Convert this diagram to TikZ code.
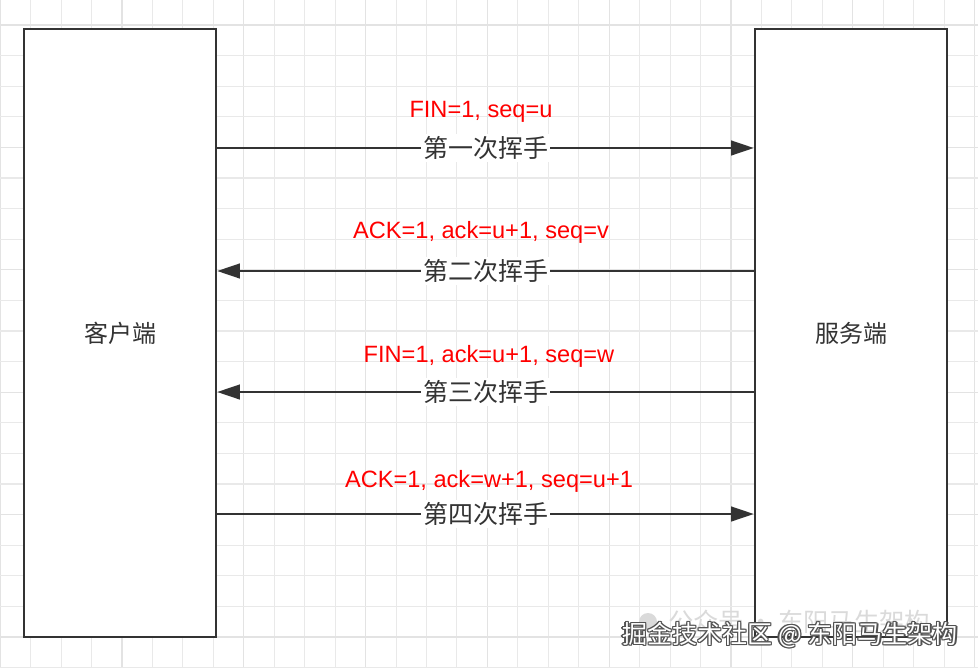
\documentclass[tikz,border=0pt]{standalone}
\usepackage{fontspec}
\setmainfont{Liberation Sans}
\newfontfamily\cjk{Noto Sans CJK SC}
\usetikzlibrary{arrows.meta}
\definecolor{lc}{HTML}{333333}
\definecolor{gridminor}{HTML}{E9E9E9}
\definecolor{gridmajor}{HTML}{E3E3E3}
\definecolor{redtxt}{HTML}{FF0000}
\definecolor{faint}{HTML}{DADADA}
\begin{document}
\begin{tikzpicture}[x=0.75pt,y=-0.75pt,
  party/.style={draw=lc, line width=1.8pt, fill=white, minimum width=144pt, minimum height=456pt,
    inner sep=0pt, font=\cjk\fontsize{18}{20}\selectfont, text=lc},
  msg/.style={draw=lc, line width=1.6pt, -{Triangle[length=17pt,width=11pt]}},
  steplbl/.style={fill=white, inner sep=1.5pt, font=\cjk\fontsize{18.75}{20}\selectfont, text=lc},
  redlbl/.style={anchor=base, inner sep=0pt, font=\fontsize{17.7}{20}\selectfont, text=redtxt},
  wmtext/.style={inner sep=0pt, font=\cjk\fontsize{18.8}{20}\selectfont},
  wmfaint/.style={inner sep=0pt, font=\cjk\fontsize{19}{20}\selectfont, text=faint}]
\useasboundingbox (0,0) rectangle (978,668);
\fill[white] (0,0) rectangle (978,668);
% grid
\foreach \k in {0,...,32}{
  \pgfmathsetmacro{\xx}{0.2+30.45*\k}
  \pgfmathtruncatemacro{\mm}{mod(\k,4)}
  \ifnum\mm=0
    \draw[gridmajor, line width=1pt] (\xx,0) -- (\xx,668);
  \else
    \draw[gridminor, line width=0.8pt] (\xx,0) -- (\xx,668);
  \fi
}
\foreach \k in {-1,...,21}{
  \pgfmathsetmacro{\yy}{25+30.6*\k}
  \pgfmathtruncatemacro{\mm}{mod(\k+4,4)}
  \ifnum\mm=0
    \draw[gridmajor, line width=1pt] (0,\yy) -- (978,\yy);
  \else
    \draw[gridminor, line width=0.8pt] (0,\yy) -- (978,\yy);
  \fi
}
% parties
\node[party] (cli) at (120,333) {客户端};
\node[party] (srv) at (851,333) {服务端};
% rows
\coordinate (r1) at (485,148);
\coordinate (r2) at (485,271);
\coordinate (r3) at (485,392);
\coordinate (r4) at (485,514);
\draw[msg] (cli.east |- r1) -- node[steplbl] (s1) {第一次挥手} (srv.west |- r1);
\draw[msg] (srv.west |- r2) -- node[steplbl] (s2) {第二次挥手} (cli.east |- r2);
\draw[msg] (srv.west |- r3) -- node[steplbl] (s3) {第三次挥手} (cli.east |- r3);
\draw[msg] (cli.east |- r4) -- node[steplbl] (s4) {第四次挥手} (srv.west |- r4);
\node[redlbl] (t1) at (481,117) {FIN=1, seq=u};
\node[redlbl] (t2) at (481,238) {ACK=1, ack=u+1, seq=v};
\node[redlbl] (t3) at (489,362) {FIN=1, ack=u+1, seq=w};
\node[redlbl] (t4) at (489,487) {ACK=1, ack=w+1, seq=u+1};
% watermark
\fill[faint] (648,622) circle (9);
\node[wmfaint, anchor=west] (wf) at (668,622) {公众号\,·\,东阳马生架构};
\foreach \dx/\dy [count=\i] in {-1.3/0,1.3/0,0/-1.3,0/1.3,-1/-1,1/1,-1/1,1/-1}{
  \node[wmtext, text=lc!85, anchor=west] (wmo\i) at (622+\dx,635+\dy) {掘金技术社区 @ 东阳马生架构};
}
\node[wmtext, text=white, anchor=west] (wm) at (622,635) {掘金技术社区 @ 东阳马生架构};
\end{tikzpicture}
\end{document}
